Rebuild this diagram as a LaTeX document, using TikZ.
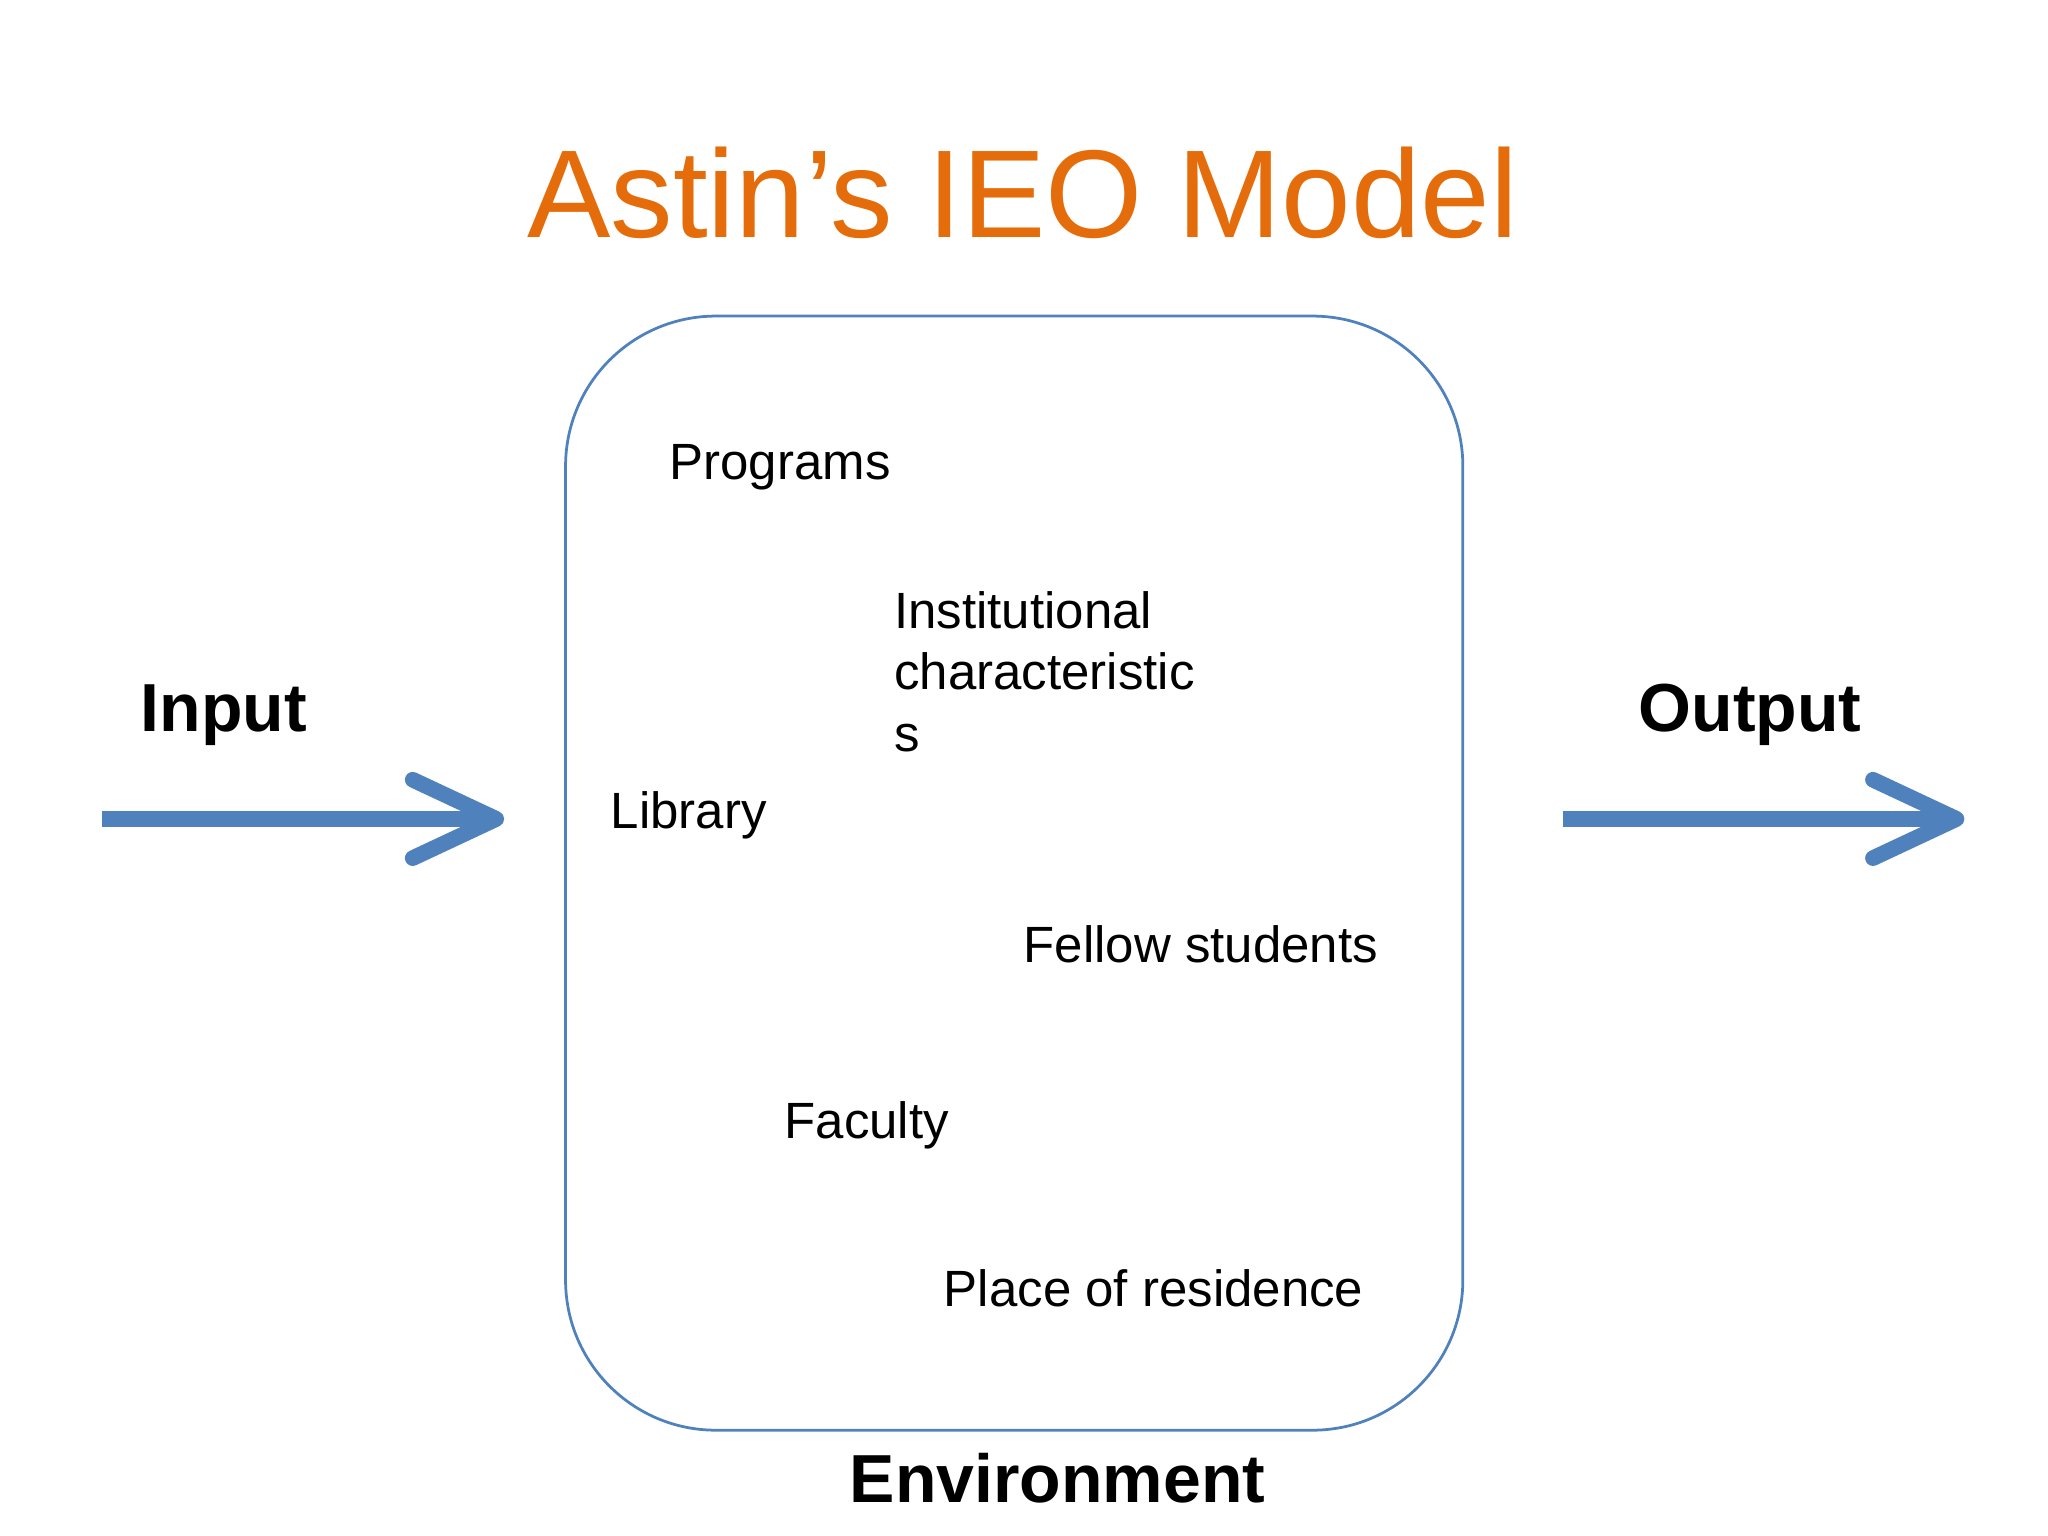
\documentclass[tikz,border=0pt]{standalone}
\usepackage{fontspec}
\setmainfont{Liberation Sans}
\definecolor{boxblue}{RGB}{79,129,189}
\definecolor{arrblue}{RGB}{79,129,189}
\definecolor{titleor}{RGB}{228,108,10}
\begin{document}
\begin{tikzpicture}[x=0.01cm,y=-0.01cm,
  lbl/.style={anchor=base west,inner sep=0pt,font=\fontsize{11.1pt}{13pt}\selectfont},
  big/.style={anchor=base west,inner sep=0pt,font=\fontsize{14.8pt}{17pt}\selectfont\bfseries},
  fat/.style={draw=arrblue,line width=0.12cm,line cap=round,line join=miter}]
\useasboundingbox (0,0) rectangle (1568,1176);
\node[anchor=base,inner sep=0pt,text=titleor,font=\fontsize{27.2pt}{31pt}\selectfont] (title) at (783,182) {Astin’s IEO Model};
\draw[boxblue,line width=0.6pt,rounded corners=1.15cm] (433,242) rectangle (1120,1095);
\node[lbl] (prog) at (512,367) {Programs};
\node[lbl] (inst1) at (684,481) {Institutional};
\node[lbl] (inst2) at (684,528) {characteristic};
\node[lbl] (inst3) at (684,575) {s};
\node[lbl] (lib) at (467,634) {Library};
\node[lbl] (fel) at (783,737) {Fellow students};
\node[lbl] (fac) at (600,872) {Faculty};
\node[lbl] (place) at (722,1000) {Place of residence};
\node[big] (inp) at (107,560) {Input};
\node[big] (outp) at (1254,560) {Output};
\node[big] (env) at (650,1150) {Environment};
\coordinate (a1) at (78,627); \coordinate (a2) at (380,627);
\draw[fat,line cap=butt] (a1) -- (a2);
\draw[fat,line join=round] (316,597) -- (a2) -- (316,657);
\coordinate (b1) at (1197,627); \coordinate (b2) at (1498,627);
\draw[fat,line cap=butt] (b1) -- (b2);
\draw[fat,line join=round] (1434,597) -- (b2) -- (1434,657);
\end{tikzpicture}
\end{document}
